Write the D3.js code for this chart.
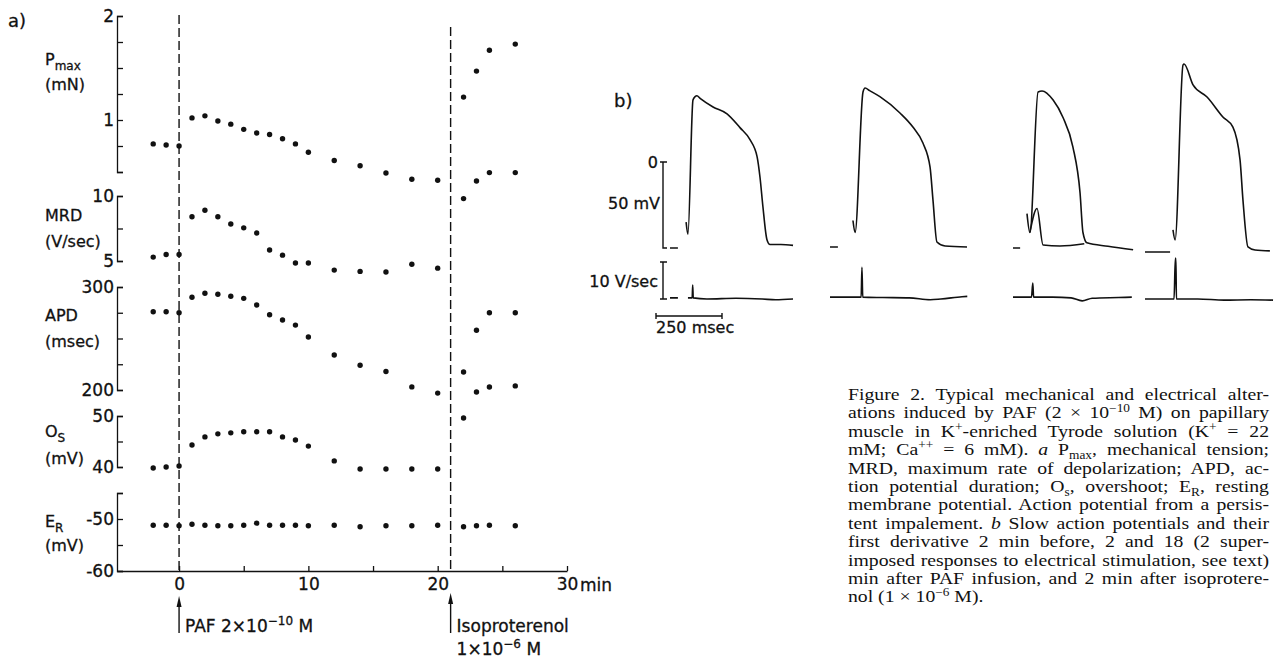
<!DOCTYPE html>
<meta charset="utf-8">
<style>
body { margin: 0; background: #fff; }
svg text { fill: #111; }
.sans { font-family: "DejaVu Sans", sans-serif; stroke: #111; stroke-width: 0.3px; }
.lab { font-size: 16px; }
.axis text { font-family: "DejaVu Sans", sans-serif; font-size: 17px; fill: #111; stroke: #111; stroke-width: 0.3px; }
.axis path, .axis line { stroke: #111; stroke-width: 1.3px; fill: none; }
.dot { fill: #111; }
.dash { stroke: #111; stroke-width: 1.4px; stroke-dasharray: 9,4; }
.trace { fill: none; stroke: #111; stroke-width: 1.6px; stroke-linejoin: round; }
.bar { stroke: #111; stroke-width: 1.4px; fill: none; }
.caption { font-family: "Liberation Serif", "Times New Roman", serif; font-size: 17px; }
</style>
<body>
<script src="https://d3js.org/d3.v7.min.js"></script>
<script>

// ---- panel a data ----
var minutes = [-2, -1, 0, 1, 2, 3, 4, 5, 6, 7, 8, 9, 10, 12, 14, 16, 18, 20, 22, 23, 24, 26];
var pmax = [0.77, 0.76, 0.75, 1.02, 1.04, 0.99, 0.96, 0.91, 0.875, 0.86, 0.82, 0.77, 0.69, 0.61, 0.56, 0.49, 0.43, 0.42, 1.22, 1.47, 1.67, 1.73];
var mrd = [5.3, 5.5, 5.5, 8.4, 8.9, 8.4, 7.85, 7.55, 7.15, 5.85, 5.45, 4.85, 4.85, 4.3, 4.2, 4.15, 4.75, 4.45, 9.8, 11.15, 11.8, 11.8];
var apd = [276, 276, 275, 290, 294, 293, 291, 289, 282.5, 273, 268, 263, 251.5, 234, 224, 218, 203, 197, 217.5, 258, 275, 275];
var os = [39.8, 40, 40.2, 44.3, 45.9, 46.5, 46.7, 46.9, 46.9, 46.9, 45.9, 45.3, 44.1, 41.2, 39.6, 39.6, 39.6, 39.6, 49.6, 54.7, 55.7, 55.9];
var er = [-51.2, -51.2, -51.3, -51.0, -51.2, -51.3, -51.3, -51.2, -50.8, -51.2, -51.2, -51.2, -51.3, -51.2, -51.5, -51.3, -51.3, -51.2, -51.5, -51.3, -51.2, -51.3];

var pmaxTicks = [0.5, 0.75, 1, 1.25, 1.5, 1.75, 2], pmaxLabels = [1, 2];
var mrdTicks = [5, 7.5, 10], mrdLabels = [5, 10];
var apdTicks = [200, 225, 250, 275, 300], apdLabels = [200, 300];
var osTicks = [40, 45, 50], osLabels = [40, 50];
var erTicks = [-60, -55, -50, -45], erLabels = [-60, -50];
var timeTicks = [0, 5, 10, 15, 20, 25, 30], timeLabels = [0, 10, 20, 30];
var pafTime = 0, isoTime = 21;

// ---- panel b traces: [ms, mV] and [ms, V/sec]; null = pen lifted ----
var apBefore = [[0,-50],[30,-50],null,[61,-35],[68,-42],[87,36],[95,38],[102,38.5],[114,37],[163,32],[216,28],[265,20],[303,13],[330,3],[341,-9],[352,-26],[367,-45],[379,-48],[420,-48],[466,-48.5]];
var ap2min = [[0,-49.4],[30,-49.4],null,[87,-34],[95,-41],[125,40.7],[133,43],[150,41.5],[189,38],[265,28.5],[314,20.3],[352,11],[379,-3],[390,-22],[405,-46.5],[436,-48.8],[519,-49.4]];
var ap18min = [[0,-50],[27,-50],null,[53,-30],[64,-41],[95,40.7],[110,41.3],[152,36],[189,26],[227,8.7],[254,-18],[265,-41],[280,-47],[360,-49],[455,-51]];
var ap18minSmall = [[64,-41],[91,-27],[114,-48.3],[178,-48.8],[270,-47.5]];
var apIso = [[0,-52.3],[95,-52.3],null,[106,-39.5],[114,-45.3],[144,56.4],[148,57],[182,44.8],[235,37.8],[295,26.2],[333,20.3],[360,1.2],[371,-22],[390,-49.4],[417,-51.2],[473,-51.7]];

var dvBefore = [[0,0.3],[30,0.3],null,[68,0.3],[84,0.3],[86,3.8],[88,0.3],[140,0],[250,0.2],[350,0],[400,-0.2],[466,0]];
var dv2min = [[0,0.5],[100,0.5],[118,0.5],[121,8.6],[124,0.5],[200,0.4],[300,0.3],[380,-0.2],[420,0],[500,0.6],[520,0.7]];
var dv18min = [[0,0.5],[70,0.5],[75,4.3],[78,0.5],[150,0.5],[220,0.3],[262,-0.5],[300,0.2],[400,0.4],[450,0.5]];
var dvIso = [[0,0],[110,0],[115,11],[117,11],[119,0],[200,0],[300,-0.3],[400,-0.2],[485,-0.3]];

var captionLines = [
  [["Figure 2. Typical mechanical and electrical alter-"]],
  [["ations induced by PAF (2 × 10"],["−10","sup"],[" M) on papillary"]],
  [["muscle in K"],["+","sup"],["-enriched Tyrode solution (K"],["+","sup"],[" = 22"]],
  [["mM; Ca"],["++","sup"],[" = 6 mM). "],["a","i"],[" P"],["max","sub"],[", mechanical tension;"]],
  [["MRD, maximum rate of depolarization; APD, ac-"]],
  [["tion potential duration; O"],["s","sub"],[", overshoot; E"],["R","sub"],[", resting"]],
  [["membrane potential. Action potential from a persis-"]],
  [["tent impalement. "],["b","i"],[" Slow action potentials and their"]],
  [["first derivative 2 min before, 2 and 18 (2 super-"]],
  [["imposed responses to electrical stimulation, see text)"]],
  [["min after PAF infusion, and 2 min after isoprotere-"]],
  [["nol (1 × 10"],["−6","sup"],[" M)."]]
];

var svg = d3.select("body").append("svg")
  .attr("width", 1278).attr("height", 660);

// ================= panel a =================
var x = d3.scaleLinear().domain([-4.8, 30]).range([117, 567]);

var panels = [
  {vals: pmax, dom: [0.5, 2], rng: [172, 16], ticks: pmaxTicks, labels: pmaxLabels, name: "P", sub: "max", unit: "(mN)", ny: 65, uy: 90},
  {vals: mrd, dom: [5, 10], rng: [261, 196], ticks: mrdTicks, labels: mrdLabels, name: "MRD", unit: "(V/sec)", ny: 221, uy: 247},
  {vals: apd, dom: [200, 300], rng: [390, 287], ticks: apdTicks, labels: apdLabels, name: "APD", unit: "(msec)", ny: 321, uy: 347},
  {vals: os, dom: [40, 50], rng: [467, 416], ticks: osTicks, labels: osLabels, name: "O", sub: "S", unit: "(mV)", ny: 437, uy: 464},
  {vals: er, dom: [-60, -45], rng: [571, 493], ticks: erTicks, labels: erLabels, name: "E", sub: "R", unit: "(mV)", ny: 527, uy: 551}
];

svg.append("text").attr("class", "sans").attr("x", 8).attr("y", 27)
  .style("font-size", "18px").text("a)");

// dashed event lines
svg.append("line").attr("class", "dash")
  .attr("x1", x(pafTime)).attr("x2", x(pafTime)).attr("y1", 15).attr("y2", 571);
svg.append("line").attr("class", "dash")
  .attr("x1", x(isoTime)).attr("x2", x(isoTime)).attr("y1", 27).attr("y2", 571);

panels.forEach(function(p) {
  var y = d3.scaleLinear().domain(p.dom).range(p.rng);
  svg.append("g").attr("class", "axis")
    .attr("transform", "translate(117,0)")
    .call(d3.axisLeft(y).tickValues(p.ticks)
      .tickSizeInner(-6).tickSizeOuter(-6).tickPadding(3)
      .tickFormat(function(d) { return p.labels.indexOf(d) >= 0 ? String(d) : ""; }));

  svg.selectAll(null).data(p.vals).enter().append("circle")
    .attr("class", "dot")
    .attr("cx", function(d, i) { return x(minutes[i]); })
    .attr("cy", function(d) { return y(d); })
    .attr("r", 2.7);

  var t = svg.append("text").attr("class", "sans lab").attr("x", 45).attr("y", p.ny);
  t.append("tspan").text(p.name);
  if (p.sub) t.append("tspan").attr("dy", 5).style("font-size", "12px").text(p.sub);
  svg.append("text").attr("class", "sans lab").attr("x", 45).attr("y", p.uy).text(p.unit);
});

// time axis
svg.append("g").attr("class", "axis")
  .attr("transform", "translate(0,571)")
  .call(d3.axisBottom(x).tickValues(timeTicks)
    .tickSizeInner(-5).tickSizeOuter(0).tickPadding(7)
    .tickFormat(function(d) { return timeLabels.indexOf(d) >= 0 ? String(d) : ""; }));
svg.append("text").attr("class", "sans").attr("x", x(30) + 13).attr("y", 591)
  .style("font-size", "17px").text("min");

// arrows
[[pafTime, 596], [isoTime, 593]].forEach(function(a) {
  svg.append("line").attr("class", "bar")
    .attr("x1", x(a[0])).attr("x2", x(a[0])).attr("y1", 633).attr("y2", a[1] + 10);
  svg.append("path").attr("fill", "#111")
    .attr("d", "M" + x(a[0]) + "," + a[1] + "l2.5,11h-5z");
});

var paf = svg.append("text").attr("class", "sans").attr("x", x(pafTime) + 6).attr("y", 632).style("font-size", "17px");
paf.append("tspan").text("PAF 2×10");
paf.append("tspan").attr("dy", -7).style("font-size", "12px").text("−10");
paf.append("tspan").attr("dy", 7).text(" M");

svg.append("text").attr("class", "sans").attr("x", x(isoTime) + 6).attr("y", 632)
  .style("font-size", "17px").text("Isoproterenol");
var iso = svg.append("text").attr("class", "sans").attr("x", x(isoTime) + 6).attr("y", 655).style("font-size", "17px");
iso.append("tspan").text("1×10");
iso.append("tspan").attr("dy", -7).style("font-size", "12px").text("−6");
iso.append("tspan").attr("dy", 7).text(" M");

// ================= panel b =================
var ymv = d3.scaleLinear().domain([0, -50]).range([162, 248]);
var ydv = d3.scaleLinear().domain([0, 10]).range([299, 262]);
var tms = d3.scaleLinear().domain([0, 250]).range([0, 66]);
var traceX = [670, 830, 1013, 1145];
var barX = 663;

svg.append("text").attr("class", "sans").attr("x", 614).attr("y", 107)
  .style("font-size", "18px").text("b)");

function drawTrace(data, x0, ys) {
  var line = d3.line()
    .defined(function(d) { return d !== null; })
    .curve(d3.curveMonotoneX)
    .x(function(d) { return x0 + tms(d[0]); })
    .y(function(d) { return ys(d[1]); });
  svg.append("path").attr("class", "trace").attr("d", line(data));
}

[apBefore, ap2min, ap18min, apIso].forEach(function(d, i) { drawTrace(d, traceX[i], ymv); });
drawTrace(ap18minSmall, traceX[2], ymv);
[dvBefore, dv2min, dv18min, dvIso].forEach(function(d, i) { drawTrace(d, traceX[i], ydv); });

// calibration bars
svg.append("path").attr("class", "bar")
  .attr("d", "M" + (barX - 3) + "," + ymv(0) + "H" + (barX + 4) + "M" + barX + "," + ymv(0) +
    "V" + ymv(-50) + "H" + (barX + 4));
svg.append("text").attr("class", "sans").attr("x", barX - 5).attr("y", ymv(0) + 6)
  .attr("text-anchor", "end").style("font-size", "16px").text("0");
svg.append("text").attr("class", "sans").attr("x", barX - 3).attr("y", 209)
  .attr("text-anchor", "end").style("font-size", "16px").text("50 mV");

svg.append("path").attr("class", "bar")
  .attr("d", "M" + (barX - 3) + "," + ydv(10) + "H" + (barX + 4) + "M" + barX + "," + ydv(10) +
    "V" + ydv(0) + "M" + (barX - 3) + "," + ydv(0) + "H" + (barX + 4));
svg.append("text").attr("class", "sans").attr("x", barX - 5).attr("y", 287)
  .attr("text-anchor", "end").style("font-size", "16px").text("10 V/sec");

var tb0 = 656, tbY = 316;
svg.append("path").attr("class", "bar")
  .attr("d", "M" + tb0 + "," + (tbY - 3) + "V" + (tbY + 3) + "M" + tb0 + "," + tbY +
    "H" + (tb0 + tms(250)) + "M" + (tb0 + tms(250)) + "," + (tbY - 3) + "V" + (tbY + 3));
svg.append("text").attr("class", "sans").attr("x", tb0).attr("y", 333)
  .style("font-size", "16px").text("250 msec");

// ================= caption =================
// the scanned type is set wider than Liberation Serif, so stretch the block horizontally
var capX = 848, capW = 421, capY = 400, capLH = 18.4, capSX = 1.16;
var cap = svg.append("g").attr("transform", "translate(" + capX + ",0) scale(" + capSX + ",1)");
captionLines.forEach(function(segs, li) {
  var t = cap.append("text").attr("class", "caption").attr("x", 0).attr("y", capY + li * capLH);
  var shift = 0;
  segs.forEach(function(s) {
    var ts = t.append("tspan").text(s[0]);
    var want = s[1] === "sup" ? -6 : (s[1] === "sub" ? 4 : 0);
    if (want !== shift) { ts.attr("dy", want - shift); shift = want; }
    if (s[1] === "sup" || s[1] === "sub") ts.style("font-size", "11.5px");
    if (s[1] === "i") ts.style("font-style", "italic");
  });
  if (li < captionLines.length - 1) {
    var len = t.node().getComputedTextLength();
    var full = segs.map(function(s) { return s[0]; }).join("");
    var spaces = (full.match(/ /g) || []).length;
    if (spaces) t.style("word-spacing", Math.max(0, (capW / capSX - len) / spaces) + "px");
  }
});

</script>
</body>
